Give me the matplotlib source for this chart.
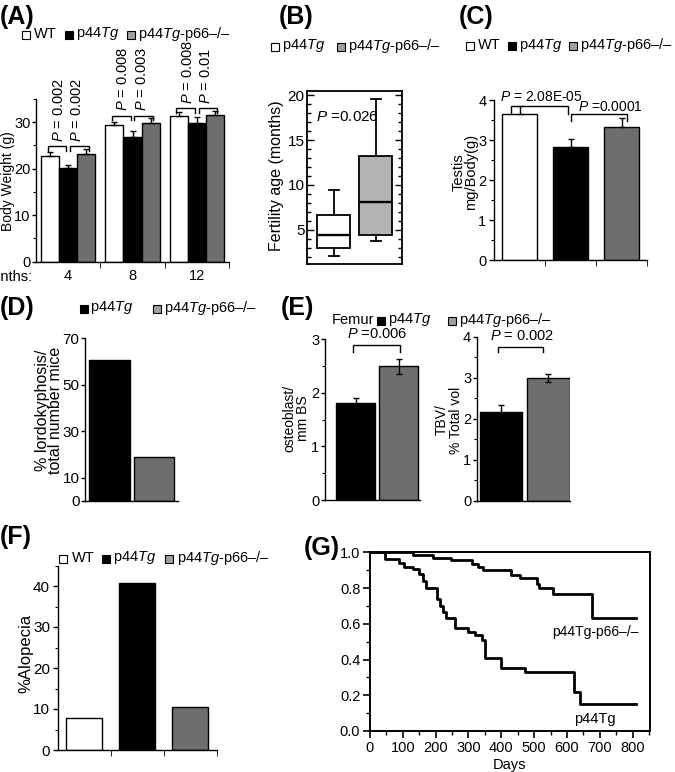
import matplotlib
matplotlib.use('Agg')
import matplotlib.pyplot as plt
from matplotlib.patches import Rectangle
import numpy as np

plt.rcParams['font.family'] = ['Liberation Sans', 'DejaVu Sans']
plt.rcParams['mathtext.fontset'] = 'custom'
plt.rcParams['mathtext.rm'] = 'Liberation Sans'
plt.rcParams['mathtext.it'] = 'Liberation Sans:italic'
plt.rcParams['mathtext.bf'] = 'Liberation Sans:bold'
plt.rcParams['font.size'] = 10
plt.rcParams['axes.linewidth'] = 1.0

# ---------------- data ----------------
TG = r'p44$\mathit{Tg}$'
KO = r'p44$\mathit{Tg}$-p66–/–'

# (A) body weight
months = ['4', '8', '12']
bw_wt = [22.8, 29.4, 31.4]
bw_wt_err = [0.9, 0.7, 0.7]
bw_tg = [20.1, 26.8, 29.9]
bw_tg_err = [0.7, 1.4, 1.2]
bw_ko = [23.1, 29.8, 31.5]
bw_ko_err = [1.2, 1.1, 1.0]
pA_left = ['0.002', '0.008', '0.008']
pA_right = ['0.002', '0.003', '0.01']

# (B) fertility age box plot
fert_whislo = [2.1, 3.8]
fert_q1 = [2.95, 4.4]
fert_med = [4.45, 8.15]
fert_q3 = [6.65, 13.25]
fert_whishi = [9.4, 19.55]

# (C) testis
testis = [3.65, 2.83, 3.32]
testis_err = [0.2, 0.19, 0.22]

# (D) lordokyphosis
lordo = [60.5, 19.0]

# (E) femur
osteo = [1.82, 2.50]
osteo_err = [0.08, 0.14]
tbv = [2.16, 2.985]
tbv_err = [0.17, 0.10]

# (F) alopecia
alopecia = [7.9, 40.8, 10.4]

# (G) survival
t_tg = [0, 46, 89, 105, 132, 148, 160, 172, 205, 213, 222, 232, 260, 298, 320, 340, 350, 398, 472, 620, 640, 810]
s_tg = [1.0, 0.965, 0.942, 0.92, 0.905, 0.88, 0.84, 0.80, 0.74, 0.70, 0.665, 0.635, 0.574, 0.555, 0.54, 0.51, 0.41, 0.35, 0.33, 0.22, 0.15, 0.15]
t_ko = [0, 132, 193, 247, 312, 330, 345, 430, 457, 508, 515, 556, 676, 810]
s_ko = [1.0, 0.985, 0.97, 0.955, 0.933, 0.918, 0.903, 0.875, 0.858, 0.82, 0.80, 0.765, 0.633, 0.633]

WHITE = 'white'
BLACK = 'black'
GRAY = '#6e6e6e'
LGRAY = '#a0a0a0'
BGRAY = '#b3b3b3'

W, H = 675, 772
fig = plt.figure(figsize=(W / 100, H / 100), dpi=100)


def px_axes(l, t, r, b):
    return fig.add_axes([l / W, 1 - b / H, (r - l) / W, (b - t) / H])


def ftext(x, y, s, **kw):
    return fig.text(x / W, 1 - y / H, s, **kw)


def square(x, y, color, size=8):
    fig.add_artist(Rectangle((x / W, 1 - (y + size / 2) / H), size / W, size / H,
                             transform=fig.transFigure, facecolor=color,
                             edgecolor='black', lw=0.8))


def legend_row(y, items, fs=10.5):
    for xs, col, xt, txt in items:
        square(xs, y + 1, col)
        ftext(xt, y, txt, va='center', ha='left', fontsize=fs)


def panel_label(x, y, s):
    ftext(x, y, s, fontsize=18, fontweight='bold', va='center', ha='left')


def clean(ax):
    ax.spines['top'].set_visible(False)
    ax.spines['right'].set_visible(False)
    ax.tick_params(axis='y', direction='out', length=3.5, width=1)
    ax.tick_params(axis='y', which='minor', direction='out', length=2, width=0.8)


def bracket(ax, x0, x1, y, leg, lw=1.0):
    ax.plot([x0, x0, x1, x1], [y - leg, y, y, y - leg], color='black', lw=lw,
            clip_on=False, solid_joinstyle='miter')


ekw = dict(lw=1, capthick=1)

# ---------------- (A) ----------------
panel_label(0, 17, '(A)')
legend_row(34, [(22, WHITE, 34, 'WT'), (65, BLACK, 76, TG), (127, LGRAY, 138, KO)])
axA = px_axes(36, 99, 229, 261.7)
x = np.arange(3)
w = 0.28
axA.bar(x - w, bw_wt, w, color=WHITE, edgecolor='black', lw=1,
        yerr=[np.zeros(3), bw_wt_err], capsize=2, error_kw=ekw)
axA.bar(x, bw_tg, w, color=BLACK, edgecolor='black', lw=1,
        yerr=[np.zeros(3), bw_tg_err], capsize=2, error_kw=ekw)
axA.bar(x + w, bw_ko, w, color=GRAY, edgecolor='black', lw=1,
        yerr=[np.zeros(3), bw_ko_err], capsize=2, error_kw=ekw)
axA.set_xlim(-0.5, 2.5)
axA.set_ylim(0, 35)
clean(axA)
axA.set_yticks([0, 10, 20, 30])
axA.set_yticks([5, 15, 25, 35], minor=True)
axA.set_xticks(x)
axA.set_xticklabels(months, fontsize=10.5)
axA.set_xticks([0.5, 1.5, 2.5], minor=True)
axA.tick_params(axis='y', labelsize=10.5, pad=1, length=3)
axA.tick_params(axis='x', which='major', length=0, pad=5)
axA.tick_params(axis='x', which='minor', length=4, direction='out')
for i in range(3):
    top = max(bw_wt[i] + bw_wt_err[i], bw_tg[i] + bw_tg_err[i], bw_ko[i] + bw_ko_err[i]) + 0.5
    bracket(axA, i - w - 0.04, i - 0.03, top, 1.0)
    bracket(axA, i + 0.03, i + w + 0.04, top, 1.0)
    axA.text(i - w / 2, top + 1.0, r'$\mathit{P}$ = ' + pA_left[i], rotation=90,
             ha='center', va='bottom', clip_on=False, fontsize=10.5)
    axA.text(i + w / 2, top + 1.0, r'$\mathit{P}$ = ' + pA_right[i], rotation=90,
             ha='center', va='bottom', clip_on=False, fontsize=10.5)
ftext(8, 181, 'Body Weight (g)', rotation=90, ha='center', va='center', fontsize=10)
ftext(32, 277, 'months:', ha='right', va='center', fontsize=10.5)

# ---------------- (B) ----------------
panel_label(279, 17, '(B)')
legend_row(46, [(271, WHITE, 282, TG), (337, LGRAY, 348, KO)])
axB = px_axes(307.3, 90.7, 402.3, 264)
stats = []
for i in range(2):
    stats.append(dict(whislo=fert_whislo[i], q1=fert_q1[i], med=fert_med[i],
                      q3=fert_q3[i], whishi=fert_whishi[i], fliers=[]))
bp = axB.bxp(stats, positions=[1, 2], widths=0.786, patch_artist=True,
             showfliers=False, capwidths=0.24,
             boxprops=dict(edgecolor='black', lw=1.3),
             medianprops=dict(color='black', lw=1.7),
             whiskerprops=dict(color='black', lw=1.3),
             capprops=dict(color='black', lw=1.3))
bp['boxes'][0].set_facecolor(WHITE)
bp['boxes'][1].set_facecolor(BGRAY)
axB.set_xlim(0.37, 2.63)
axB.set_ylim(1.2, 20.5)
axB.set_xticks([])
axB.set_yticks([5, 10, 15, 20])
axB.set_yticks(np.arange(2, 21, 1), minor=True)
axB.tick_params(axis='y', which='major', direction='in', length=5, width=1,
                left=True, right=True, labelsize=11, pad=2)
axB.tick_params(axis='y', which='minor', direction='in', length=3, width=1, left=True, right=True)
for s in axB.spines.values():
    s.set_linewidth(1.3)
axB.text(0.58, 17.6, r'$\mathit{P}$ =0.026', ha='left', va='center', fontsize=11)
ftext(276, 176, 'Fertility age (months)', rotation=90, ha='center', va='center', fontsize=11.5)

# ---------------- (C) ----------------
panel_label(459, 17, '(C)')
legend_row(45, [(466, WHITE, 478, 'WT'), (508, BLACK, 519, TG), (569, LGRAY, 580, KO)])
axC = px_axes(494, 100, 647.3, 260)
xc = np.arange(3)
axC.bar(xc, testis, 0.686, color=[WHITE, BLACK, GRAY], edgecolor='black', lw=1,
        yerr=[np.zeros(3), testis_err], capsize=2, error_kw=ekw)
axC.set_xlim(-0.5, 2.5)
axC.set_ylim(0, 4)
clean(axC)
axC.set_yticks([0, 1, 2, 3, 4])
axC.set_yticks(np.arange(0.5, 4, 1.0), minor=True)
axC.tick_params(axis='y', labelsize=10.5, pad=2)
axC.set_xticks([])
axC.set_xticks([0.5, 1.5, 2.5], minor=True)
axC.tick_params(axis='x', which='minor', length=4, direction='out')
bracket(axC, -0.16, 0.95, testis[0] + testis_err[0], 0.2)
axC.text(-0.39, 4.08, r'$\mathit{P}$ = 2.08E-05', ha='left', va='center', clip_on=False,
         fontsize=10)
bracket(axC, 1.0, 2.1, testis[0], 0.17)
axC.text(1.14, 3.82, r'$\mathit{P}$ =0.0001', ha='left', va='center', clip_on=False,
         fontsize=10)
ftext(465, 172, 'Testis\nmg/Body(g)', rotation=90, ha='center', va='center',
      linespacing=0.9, multialignment='center', fontsize=10.5)

# ---------------- (D) ----------------
panel_label(0, 308, '(D)')
legend_row(308, [(80, BLACK, 90, TG), (153, LGRAY, 164, KO)])
axD = px_axes(85, 338.3, 178.3, 501)
axD.bar([0, 1], lordo, 0.9, color=[BLACK, GRAY], edgecolor='black', lw=1)
axD.set_xlim(-0.54, 1.535)
axD.set_ylim(0, 70)
clean(axD)
axD.set_yticks([0, 10, 30, 50, 70])
axD.tick_params(axis='y', labelsize=11, pad=1, length=3)
axD.set_xticks([])
ftext(49, 410, '% lordokyphosis/\ntotal number mice', rotation=90, ha='center',
      va='center', linespacing=0.85, multialignment='center', fontsize=11.5)

# ---------------- (E) ----------------
panel_label(281, 308, '(E)')
ftext(332, 320, 'Femur', ha='left', va='center', fontsize=10.5)
legend_row(320, [(377, BLACK, 388, TG), (448, LGRAY, 459, KO)])
axE1 = px_axes(325, 339.3, 420, 500)
axE1.bar([0, 1], osteo, 0.9, color=[BLACK, GRAY], edgecolor='black', lw=1,
         yerr=osteo_err, capsize=2, error_kw=ekw)
axE1.set_xlim(-0.706, 1.49)
axE1.set_ylim(0, 3)
clean(axE1)
axE1.set_yticks([0, 1, 2, 3])
axE1.set_yticks([0.5, 1.5, 2.5], minor=True)
axE1.tick_params(axis='y', labelsize=10.5, pad=1, length=3)
axE1.set_xticks([])
bracket(axE1, -0.05, 1.03, 2.89, 0.12)
axE1.text(0.5, 2.96, r'$\mathit{P}$ =0.006', ha='center', va='bottom', clip_on=False,
          fontsize=10.5)
ftext(296, 418, 'osteoblast/\nmm BS', rotation=90, ha='center', va='center',
      linespacing=0.95, multialignment='center', fontsize=10)

axE2 = px_axes(476.7, 336.7, 570, 500.7)
axE2.bar([0, 1], tbv, 0.9, color=[BLACK, GRAY], edgecolor='black', lw=1,
         yerr=tbv_err, capsize=2, error_kw=ekw)
axE2.set_xlim(-0.51, 1.46)
axE2.set_ylim(0, 4)
clean(axE2)
axE2.set_yticks([0, 1, 2, 3, 4])
axE2.set_yticks([0.5, 1.5, 2.5, 3.5], minor=True)
axE2.tick_params(axis='y', labelsize=10.5, pad=1, length=3)
axE2.set_xticks([])
bracket(axE2, -0.06, 0.9, 3.76, 0.14)
axE2.text(0.45, 3.85, r'$\mathit{P}$ = 0.002', ha='center', va='bottom', clip_on=False,
          fontsize=10.5)
ftext(449, 420, 'TBV/\n% Total vol', rotation=90, ha='center', va='center',
      linespacing=1.0, multialignment='center', fontsize=10)

# ---------------- (F) ----------------
panel_label(0, 537, '(F)')
legend_row(558, [(59, WHITE, 72, 'WT'), (102, BLACK, 113, TG), (165, LGRAY, 177, KO)])
axF = px_axes(57.7, 565.5, 216.7, 750)
axF.bar([0, 1, 2], alopecia, 0.68, color=[WHITE, BLACK, GRAY], edgecolor='black', lw=1)
axF.set_xlim(-0.5, 2.5)
axF.set_ylim(0, 45)
clean(axF)
axF.set_yticks([0, 10, 20, 30, 40])
axF.set_yticks([5, 15, 25, 35, 45], minor=True)
axF.tick_params(axis='y', labelsize=11, pad=2)
axF.set_xticks([])
axF.set_xticks([0.5, 1.5, 2.5], minor=True)
axF.tick_params(axis='x', which='minor', length=4, direction='out')
ftext(26, 653, '%Alopecia', rotation=90, ha='center', va='center', fontsize=12)

# ---------------- (G) ----------------
panel_label(304, 548, '(G)')
axG = px_axes(370, 552.3, 650, 731)
axG.step(t_tg, s_tg, where='post', color='black', lw=2)
axG.step(t_ko, s_ko, where='post', color='black', lw=2)
axG.set_xlim(0, 853)
axG.set_ylim(0, 1.0)
axG.set_xticks(np.arange(0, 801, 100))
axG.set_xticks(np.arange(50, 851, 100), minor=True)
axG.set_yticks(np.arange(0, 1.01, 0.2))
axG.set_yticks(np.arange(0.1, 1.0, 0.2), minor=True)
axG.set_yticklabels(['%.1f' % v for v in np.arange(0, 1.01, 0.2)])
axG.tick_params(which='major', direction='out', length=5, width=1.2, labelsize=10.5, pad=2)
axG.tick_params(which='minor', direction='out', length=3, width=1.0)
for s in axG.spines.values():
    s.set_linewidth(1.4)
axG.text(818, 0.555, 'p44Tg-p66–/–', ha='right', va='center', fontsize=10)
axG.text(686, 0.067, 'p44Tg', ha='center', va='center', fontsize=10.5)
axG.set_xlabel('Days', labelpad=2, fontsize=10.5)

fig.savefig('out.png', dpi=100)
